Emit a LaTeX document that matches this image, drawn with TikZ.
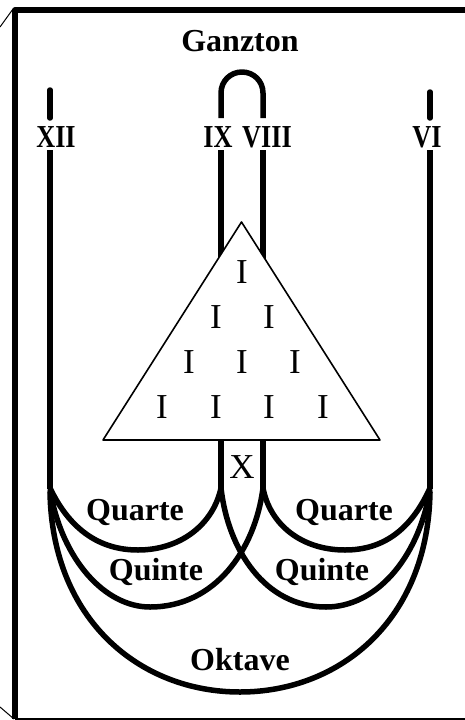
\documentclass[tikz,border=0pt]{standalone}
\usepackage{fontspec}
\setmainfont{Liberation Serif}

\newcommand{\numeral}[1]{\scalebox{0.82}[1]{#1}}

\begin{document}
\begin{tikzpicture}[x=1pt, y=-1pt, line join=round,
  heavy/.style={line width=5.5pt},
  tagtext/.style={font=\fontsize{32}{32}\selectfont\bfseries, inner sep=0pt, anchor=base},
  strich/.style={font=\fontsize{35}{35}\selectfont, inner sep=0pt, anchor=base}]
\useasboundingbox (0,0) rectangle (465,720);

% Frame
\draw[line width=5.5pt] (15,719) -- (15,10) -- (465,10);
\draw[line width=1.2pt] (15,719) -- (465,719);
\draw[line width=1pt] (0,27) -- (13,9);
\draw[line width=1pt] (0,707) -- (14,719);

% Outer strings
\draw[heavy, line cap=round] (50,90) -- (50,118);
\draw[heavy] (50,150) -- (50,489);
\draw[heavy, line cap=round] (430,92) -- (430,118);
\draw[heavy] (430,150) -- (430,489);

% Middle loop
\draw[heavy] (221,118) -- (221,93) .. controls (221,81) and (230.5,72) .. (242,72)
  .. controls (253.5,72) and (263,81) .. (263,93) -- (263,118);
\draw[heavy] (221,150) -- (221,489);
\draw[heavy] (263,150) -- (263,489);

% Quarte
\draw[heavy] (50,488) .. controls (70,530) and (100,550) .. (138,550)
  .. controls (180,550) and (213,525) .. (221,488);
\draw[heavy] (263,488) .. controls (270,525) and (302,550) .. (345,550)
  .. controls (383,550) and (411,530) .. (430,488);

% Quinte
\draw[heavy] (50,490) .. controls (62,560) and (105,607) .. (150,607)
  .. controls (215,607) and (255,550) .. (263,488);
\draw[heavy] (221,488) .. controls (228,550) and (265,607) .. (326,607)
  .. controls (375,607) and (418,560) .. (430,490);

% Oktave
\draw[heavy] (50,492) .. controls (52,620) and (140,692) .. (240,692)
  .. controls (340,692) and (428,620) .. (430,492);

% Triangle
\draw[line width=1.6pt, fill=white] (241.5,222) -- (380,440) -- (103,440) -- cycle;
\node[strich] (i1) at (242,283) {I};
\foreach \x [count=\k] in {216,269}
  \node[strich] (ii\k) at (\x,328) {I};
\foreach \x [count=\k] in {189,242,295}
  \node[strich] (iii\k) at (\x,373) {I};
\foreach \x [count=\k] in {162,216,269,323}
  \node[strich] (iv\k) at (\x,418) {I};
\node[strich] (zehn) at (242,478) {X};

% Labels
\node[tagtext] (ganzton) at (240,51) {Ganzton};
\node[tagtext] (xii) at (56,147) {\numeral{XII}};
\node[tagtext] (ix) at (218,147) {\numeral{IX}};
\node[tagtext] (viii) at (267,147) {\numeral{VIII}};
\node[tagtext] (vi) at (427,147) {\numeral{VI}};
\node[tagtext] (quarteL) at (135,520) {Quarte};
\node[tagtext] (quarteR) at (344,520) {Quarte};
\node[tagtext] (quinteL) at (156,580) {Quinte};
\node[tagtext] (quinteR) at (322,580) {Quinte};
\node[tagtext] (oktave) at (240,670) {Oktave};
\end{tikzpicture}
\end{document}
